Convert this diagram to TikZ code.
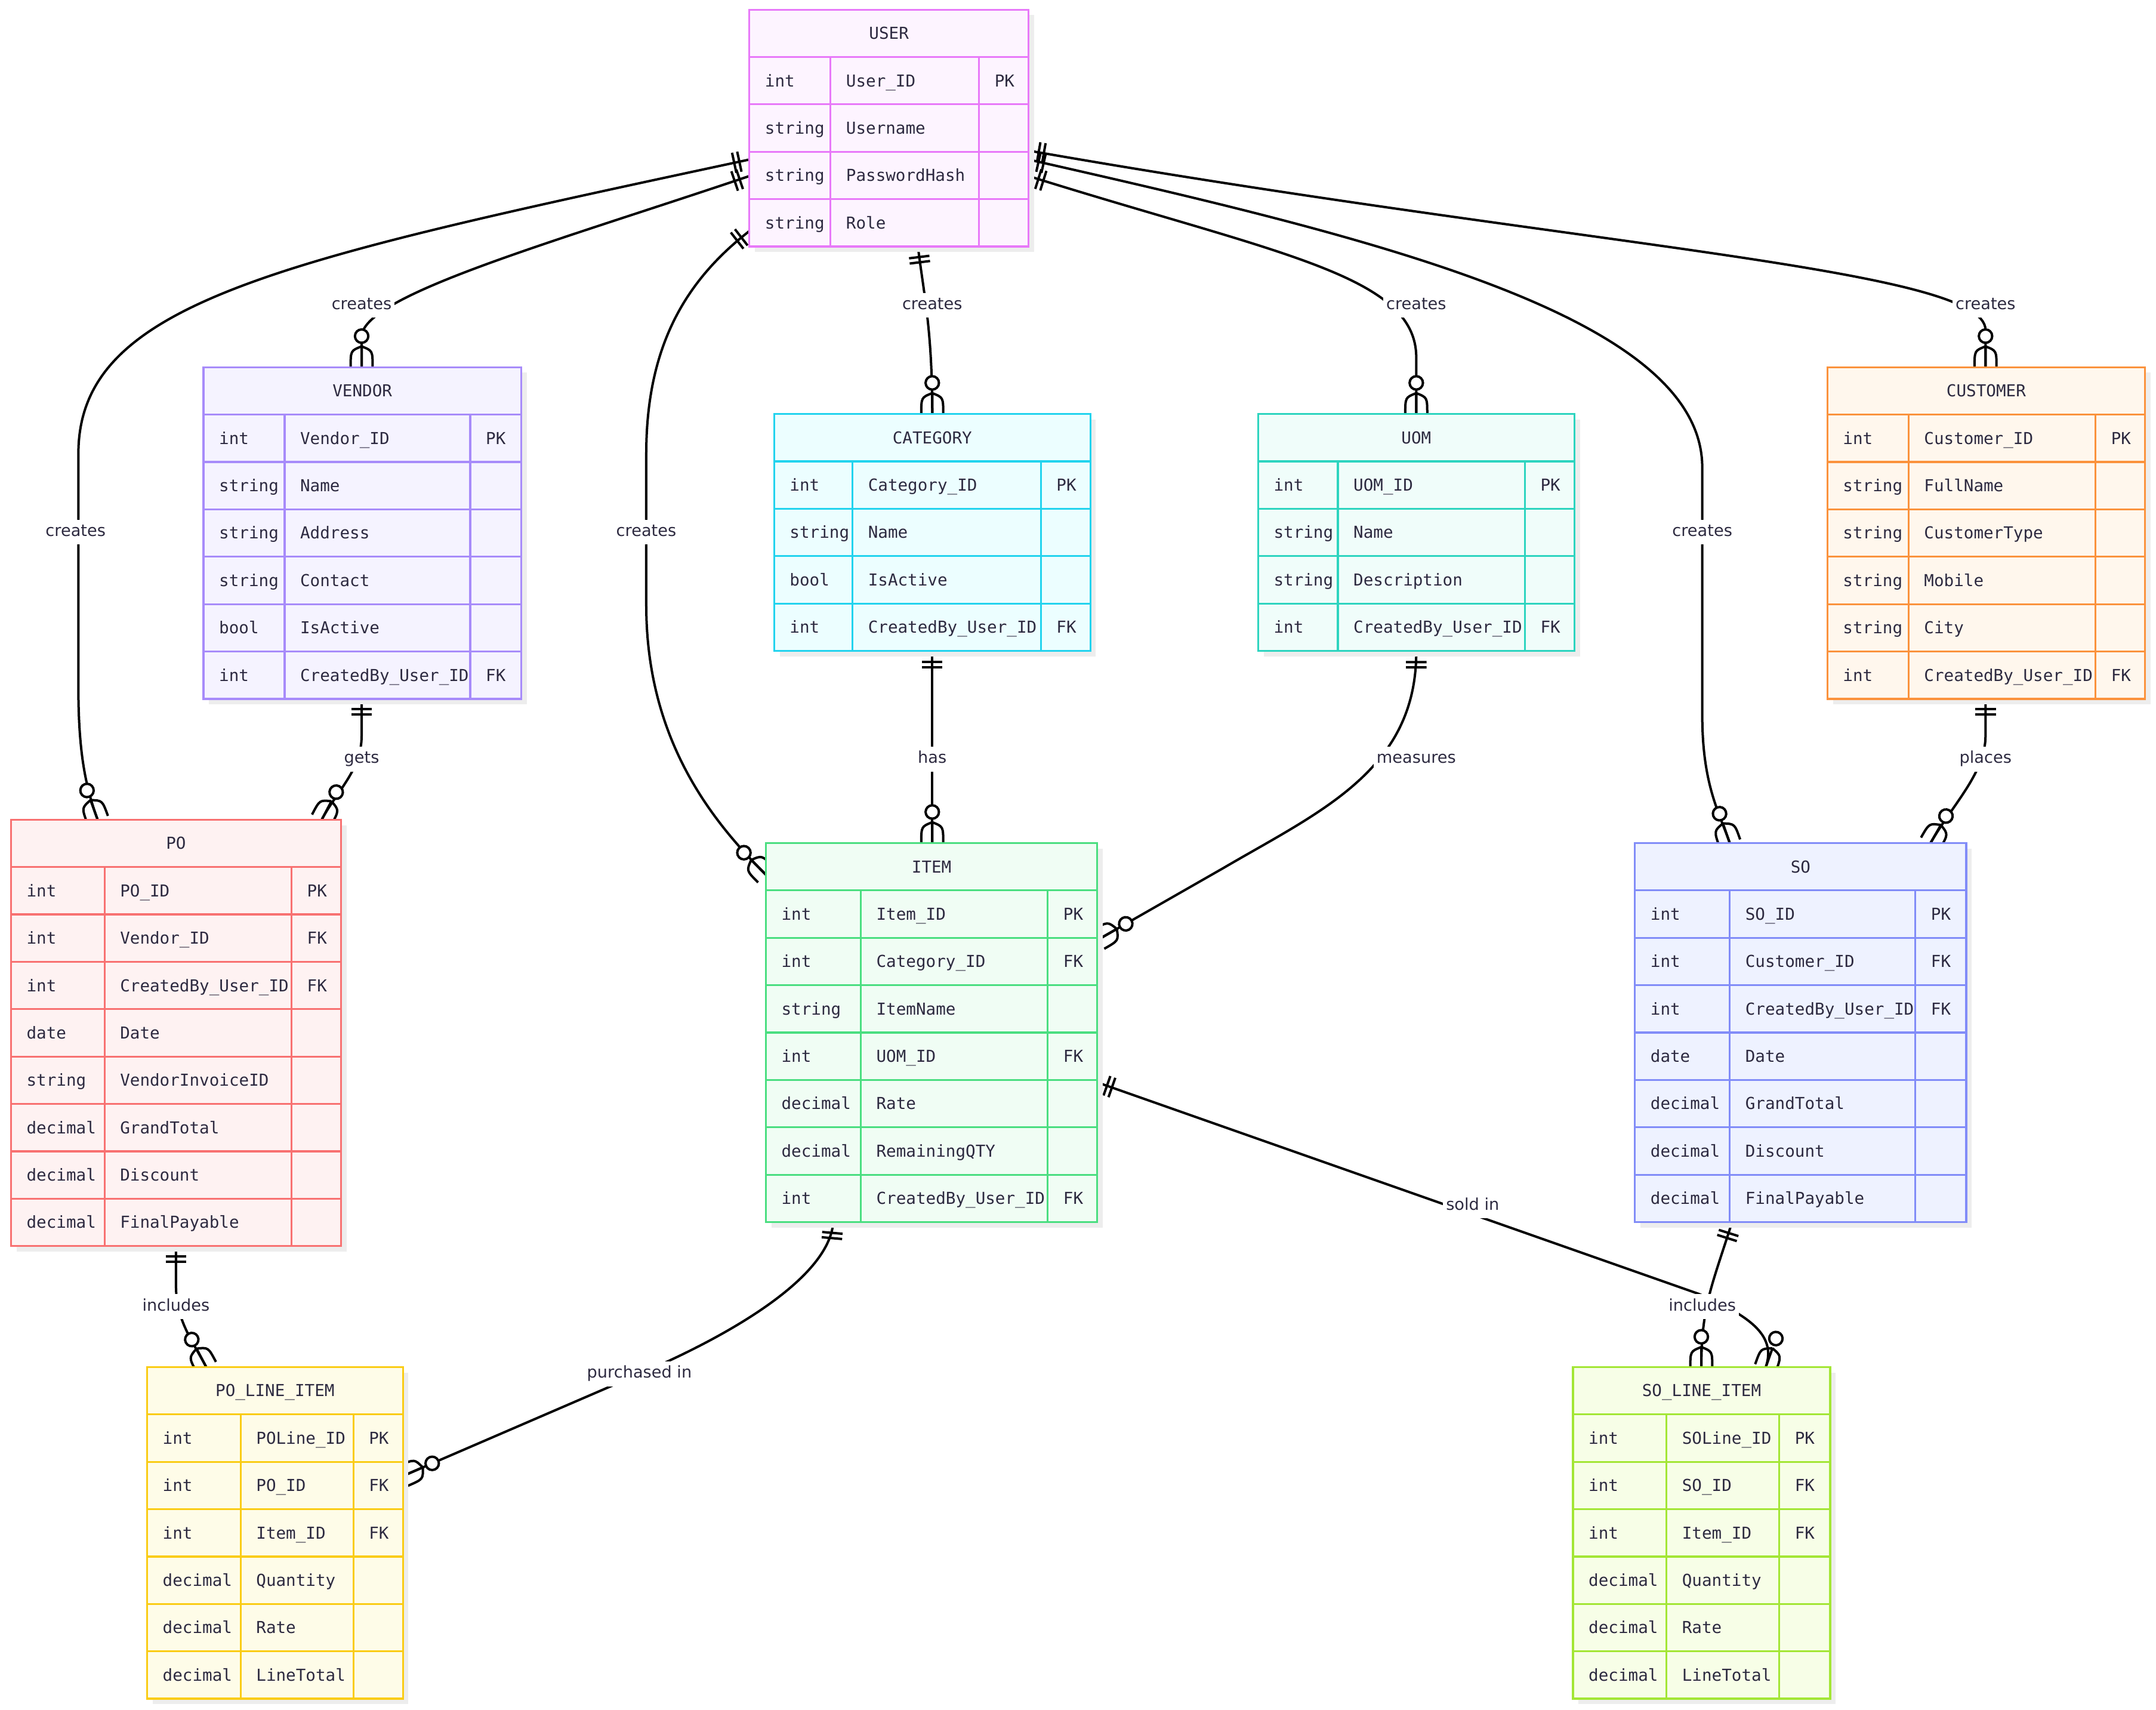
\documentclass[tikz,border=0pt]{standalone}
\usepackage{fontspec}
\setmainfont{DejaVu Sans}
\newfontfamily\monof{DejaVu Sans Mono}
\usetikzlibrary{decorations.markings}
\definecolor{txt}{HTML}{2D2A40}
\definecolor{shadowc}{HTML}{EDEDED}
\definecolor{userS}{HTML}{E879F9}\definecolor{userF}{HTML}{FDF4FF}
\definecolor{vendorS}{HTML}{A78BFA}\definecolor{vendorF}{HTML}{F5F3FF}
\definecolor{catS}{HTML}{22D3EE}\definecolor{catF}{HTML}{ECFEFF}
\definecolor{uomS}{HTML}{2DD4BF}\definecolor{uomF}{HTML}{F0FDFA}
\definecolor{custS}{HTML}{FB923C}\definecolor{custF}{HTML}{FFF7ED}
\definecolor{poS}{HTML}{F87171}\definecolor{poF}{HTML}{FEF2F2}
\definecolor{itemS}{HTML}{4ADE80}\definecolor{itemF}{HTML}{F0FDF4}
\definecolor{soS}{HTML}{818CF8}\definecolor{soF}{HTML}{EEF2FF}
\definecolor{polS}{HTML}{FACC15}\definecolor{polF}{HTML}{FEFCE8}
\definecolor{solS}{HTML}{A3E635}\definecolor{solF}{HTML}{F7FEE7}
\tikzset{
  cell/.style={font=\monof\fontsize{6.9}{8}\selectfont, text=txt, inner sep=0pt, anchor=base west},
  hdr/.style={font=\monof\fontsize{6.9}{8}\selectfont, text=txt, inner sep=0pt, anchor=base},
  lbl/.style={font=\fontsize{6.8}{8}\selectfont, text=txt, fill=white, inner xsep=1.2pt, inner ysep=1.9pt, text height=5pt, text depth=1.5pt},
  rel/.style={line width=1pt, draw=black, postaction={decorate, decoration={markings,
    mark=at position 0 with {\draw[line width=1pt] (4.3pt,-4.3pt) -- (4.3pt,4.3pt) (6.5pt,-4.3pt) -- (6.5pt,4.3pt);},
    mark=at position -0.02pt with {\draw[line width=1pt] (-8.7pt,0pt) -- (0pt,0pt)
        (-8.7pt,0pt) .. controls (-6.9pt,4.6pt) .. (0pt,4.6pt)
        (-8.7pt,0pt) .. controls (-6.9pt,-4.6pt) .. (0pt,-4.6pt);
      \draw[line width=1pt, fill=white] (-13pt,0pt) circle (2.8pt);}}}}
}
% #1 id, #2 x1, #3 col1, #4 col2, #5 x2, #6 top, #7 rows, #8 title, #9 rows list
\newcommand\ertab[9]{%
  \pgfmathsetmacro\ybot{#6+34.45*(#7+1)}%
  \fill[shadowc] (#2+4,#6+4) rectangle (#5+4,\ybot+4);
  \draw[draw=#1S, fill=#1F, line width=0.8pt] (#2,#6) rectangle (#5,\ybot);
  \node[hdr] (#1) at ({(#2+#5)/2},#6+21.5) {#8};
  \foreach \ta/\na/\ka [count=\i] in {#9} {%
    \pgfmathsetmacro\yt{#6+34.45*\i}%
    \draw[draw=#1S, line width=0.8pt] (#2,\yt) -- (#5,\yt);
    \node[cell] (#1-a\i) at (#2+11,\yt+21.5) {\ta};
    \node[cell] (#1-b\i) at (#3+11,\yt+21.5) {\na};
    \node[cell] (#1-c\i) at (#4+11,\yt+21.5) {\ka};
  }
  \draw[draw=#1S, line width=0.8pt] (#3,#6+34.45) -- (#3,\ybot) (#4,#6+34.45) -- (#4,\ybot);
}
\begin{document}
\begin{tikzpicture}[x=0.576pt, y=-0.576pt]
\useasboundingbox (0,0) rectangle (1568,1243);
% connector end points
\coordinate (c1s) at (545,116);   \coordinate (c1e) at (71,596);
\coordinate (c2s) at (545,128);   \coordinate (c2e) at (263,267);
\coordinate (c3s) at (545,168);   \coordinate (c3e) at (557,636);
\coordinate (c4s) at (667.6,179.5); \coordinate (c4e) at (678,301);
\coordinate (c5s) at (748,128);   \coordinate (c5e) at (1030,301);
\coordinate (c6s) at (748,116);   \coordinate (c6e) at (1258,613);
\coordinate (c7s) at (748,109.5); \coordinate (c7e) at (1444,267);
\coordinate (c8s) at (263,508);   \coordinate (c8e) at (234,596);
\coordinate (c9s) at (678,474);   \coordinate (c9e) at (678,613);
\coordinate (c10s) at (1030,474); \coordinate (c10e) at (799,683);
\coordinate (c11s) at (1444,508); \coordinate (c11e) at (1404,613);
\coordinate (c12s) at (128,906);  \coordinate (c12e) at (150,994);
\coordinate (c13s) at (606,889);  \coordinate (c13e) at (293.5,1073);
\coordinate (c14s) at (798,787);  \coordinate (c14e) at (1284,994.6);
\coordinate (c15s) at (1259.4,889.4); \coordinate (c15e) at (1237.3,994.6);
% connectors
\draw[rel] (c1s) .. controls (200,190) and (57,220) .. (57,330) -- (57,500) .. controls (57,550) and (63,574) .. (c1e);
\draw[rel] (c2s) .. controls (400,177) and (263,215) .. (263,245) -- (c2e);
\draw[rel] (c3s) .. controls (500,203) and (470,250) .. (470,330) -- (470,440) .. controls (470,540) and (520,599) .. (c3e);
\draw[rel] (c4s) .. controls (672,215) and (678,240) .. (c4e);
\draw[rel] (c5s) .. controls (930,185) and (1030,200) .. (1030,260) -- (c5e);
\draw[rel] (c6s) .. controls (1000,173) and (1238,230) .. (1238,340) -- (1238,520) .. controls (1238,570) and (1250,590) .. (c6e);
\draw[rel] (c7s) .. controls (1150,180) and (1444,195) .. (1444,240) -- (c7e);
\draw[rel] (c8s) -- (263,535) .. controls (263,560) and (245,575) .. (c8e);
\draw[rel] (c9s) -- (c9e);
\draw[rel] (c10s) .. controls (1030,560) and (960,590) .. (890,631) -- (c10e);
\draw[rel] (c11s) -- (1444,535) .. controls (1444,562) and (1420,585) .. (c11e);
\draw[rel] (c12s) -- (128,935) .. controls (128,960) and (140,975) .. (c12e);
\draw[rel] (c13s) .. controls (602,935) and (510,980) .. (465,999) -- (c13e);
\draw[rel] (c14s) -- (1236,941) .. controls (1275,958) and (1292,972) .. (c14e);
\draw[rel] (c15s) .. controls (1245,935) and (1237.3,950) .. (c15e);
% labels
\node[lbl] (l1) at (55,387) {creates};
\node[lbl] (l2) at (263,222) {creates};
\node[lbl] (l3) at (470,387) {creates};
\node[lbl] (l4) at (678,222) {creates};
\node[lbl] (l5) at (1030,222) {creates};
\node[lbl] (l6) at (1238,387) {creates};
\node[lbl] (l7) at (1444,222) {creates};
\node[lbl] (l8) at (263,552) {gets};
\node[lbl] (l9) at (678,552) {has};
\node[lbl] (l10) at (1030,552) {measures};
\node[lbl] (l11) at (1444,552) {places};
\node[lbl] (l12) at (128,950) {includes};
\node[lbl] (l13) at (465,999) {purchased in};
\node[lbl] (l14) at (1071,877) {sold in};
\node[lbl] (l15) at (1238,950) {includes};
% tables
\ertab{user}{545}{604}{712}{748}{7}{4}{USER}{int/User\_ID/PK, string/Username/{}, string/PasswordHash/{}, string/Role/{}}
\ertab{vendor}{148}{207}{342}{379}{267}{6}{VENDOR}{int/Vendor\_ID/PK, string/Name/{}, string/Address/{}, string/Contact/{}, bool/IsActive/{}, int/CreatedBy\_User\_ID/FK}
\ertab{cat}{563}{620}{757}{793}{301}{4}{CATEGORY}{int/Category\_ID/PK, string/Name/{}, bool/IsActive/{}, int/CreatedBy\_User\_ID/FK}
\ertab{uom}{915}{973}{1109}{1145}{301}{4}{UOM}{int/UOM\_ID/PK, string/Name/{}, string/Description/{}, int/CreatedBy\_User\_ID/FK}
\ertab{cust}{1329}{1388}{1524}{1560}{267}{6}{CUSTOMER}{int/Customer\_ID/PK, string/FullName/{}, string/CustomerType/{}, string/Mobile/{}, string/City/{}, int/CreatedBy\_User\_ID/FK}
\ertab{po}{8}{76}{212}{248}{596}{8}{PO}{int/PO\_ID/PK, int/Vendor\_ID/FK, int/CreatedBy\_User\_ID/FK, date/Date/{}, string/VendorInvoiceID/{}, decimal/GrandTotal/{}, decimal/Discount/{}, decimal/FinalPayable/{}}
\ertab{item}{557}{626}{762}{798}{613}{7}{ITEM}{int/Item\_ID/PK, int/Category\_ID/FK, string/ItemName/{}, int/UOM\_ID/FK, decimal/Rate/{}, decimal/RemainingQTY/{}, int/CreatedBy\_User\_ID/FK}
\ertab{so}{1189}{1258}{1393}{1430}{613}{7}{SO}{int/SO\_ID/PK, int/Customer\_ID/FK, int/CreatedBy\_User\_ID/FK, date/Date/{}, decimal/GrandTotal/{}, decimal/Discount/{}, decimal/FinalPayable/{}}
\ertab{pol}{107}{175}{257}{293}{994}{6}{PO\_LINE\_ITEM}{int/POLine\_ID/PK, int/PO\_ID/FK, int/Item\_ID/FK, decimal/Quantity/{}, decimal/Rate/{}, decimal/LineTotal/{}}
\ertab{sol}{1144}{1212}{1294}{1331}{994}{6}{SO\_LINE\_ITEM}{int/SOLine\_ID/PK, int/SO\_ID/FK, int/Item\_ID/FK, decimal/Quantity/{}, decimal/Rate/{}, decimal/LineTotal/{}}
\end{tikzpicture}
\end{document}
